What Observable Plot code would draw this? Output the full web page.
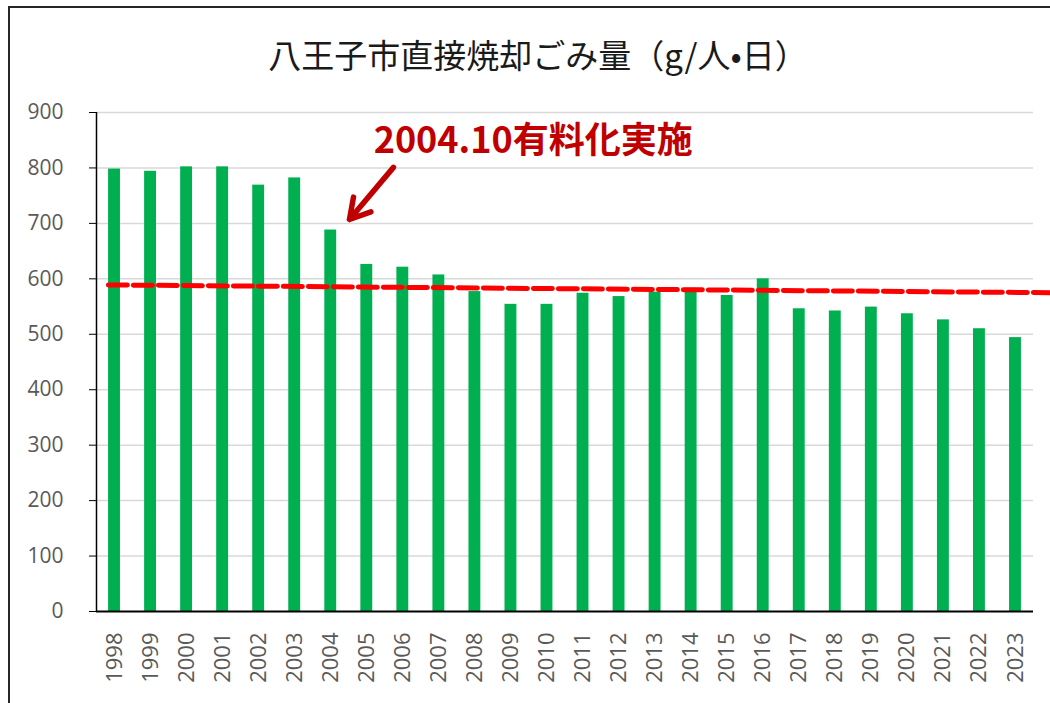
<!DOCTYPE html>
<html>
<head>
<meta charset="utf-8">
<script src="https://cdn.jsdelivr.net/npm/d3@7"></script>
<script src="https://cdn.jsdelivr.net/npm/@observablehq/plot@0.6"></script>
<style>
  html, body { margin: 0; padding: 0; background: #fff; }
  #wrap { position: relative; width: 1050px; height: 703px; overflow: hidden; background: #fff; }
  #frame { position: absolute; left: 8px; top: 6px; width: 1200px; height: 900px; border: 2.5px solid #262626; box-sizing: border-box; pointer-events: none; }
  #title { position: absolute; left: 0; width: 1076px; top: 32px; text-align: center; font-family: "Noto Sans CJK JP", sans-serif; font-size: 33px; color: #1a1a1a; line-height: 44px; }
  #chart { position: absolute; left: 0; top: 0; }
</style>
</head>
<body>
<div id="wrap">
  <div id="chart"></div>
  <div id="title">八王子市直接焼却ごみ量（g/人•日）</div>
  <div id="frame"></div>
</div>
<script>
const years = [1998, 1999, 2000, 2001, 2002, 2003, 2004, 2005, 2006, 2007, 2008, 2009, 2010,
               2011, 2012, 2013, 2014, 2015, 2016, 2017, 2018, 2019, 2020, 2021, 2022, 2023];
const values = [798, 794, 802, 802, 769, 782, 688, 626, 621, 607, 577, 554, 554,
                574, 568, 576, 583, 570, 600, 546, 542, 549, 537, 526, 510, 494];
const yTicks = [0, 100, 200, 300, 400, 500, 600, 700, 800, 900];

// dashed reference line (annotation)
const trendX = [1997.83, 2023.97];
const trendY = [589, 575];

// annotation arrow & label
const arrowX = [2005.74, 2004.52];
const arrowY = [801, 707];
const noteX = [2005.19];
const noteY = [848];
const noteText = ["2004.10有料化実施"];

const data = years.map((y, i) => ({year: y, value: values[i]}));
const trend = trendX.map((x, i) => ({x, y: trendY[i]}));
const arrow = [{x1: arrowX[0], y1: arrowY[0], x2: arrowX[1], y2: arrowY[1]}];
const notes = noteText.map((t, i) => ({x: noteX[i], y: noteY[i], t}));

const halfBar = 0.165;

const chart = Plot.plot({
  width: 1050,
  height: 703,
  marginTop: 112,
  marginBottom: 92,
  marginLeft: 96,
  marginRight: 17,
  style: {fontFamily: "'Open Sans', 'Noto Sans', sans-serif", background: "transparent", overflow: "visible"},
  x: {type: "linear", domain: [1997.5, 2023.5]},
  y: {domain: [0, 900]},
  marks: [
    Plot.gridY(yTicks.filter(d => d > 0), {stroke: "#d9d9d9", strokeOpacity: 1, strokeWidth: 1.5}),
    Plot.rectY(data, {x1: d => d.year - halfBar, x2: d => d.year + halfBar, y: "value", fill: "#00B050"}),
    Plot.axisY({ticks: yTicks, tickSize: 7, tickPadding: 26, fontSize: 21, color: "#595959", stroke: "#000", tickFormat: d => String(d)}),
    Plot.ruleX([1997.5], {stroke: "#000", strokeWidth: 1.5}),
    Plot.ruleY([0], {stroke: "#000", strokeWidth: 1.8}),
    Plot.axisX({ticks: years, tickFormat: d => String(d), tickRotate: -90, tickSize: 0, tickPadding: 21, fontSize: 22, color: "#595959", label: null}),
    Plot.line(trend, {x: "x", y: "y", stroke: "#FF0000", strokeWidth: 5, strokeDasharray: "19,6"}),
    Plot.arrow(arrow, {x1: "x1", y1: "y1", x2: "x2", y2: "y2", stroke: "#C00000", strokeWidth: 5.5, headLength: 18, headAngle: 60}),
    Plot.text(notes, {x: "x", y: "y", text: "t", textAnchor: "start", fontSize: 36, fontWeight: "bold", fill: "#C00000", fontFamily: "'Noto Sans CJK JP', sans-serif"})
  ]
});
document.getElementById("chart").appendChild(chart);
</script>
</body>
</html>
